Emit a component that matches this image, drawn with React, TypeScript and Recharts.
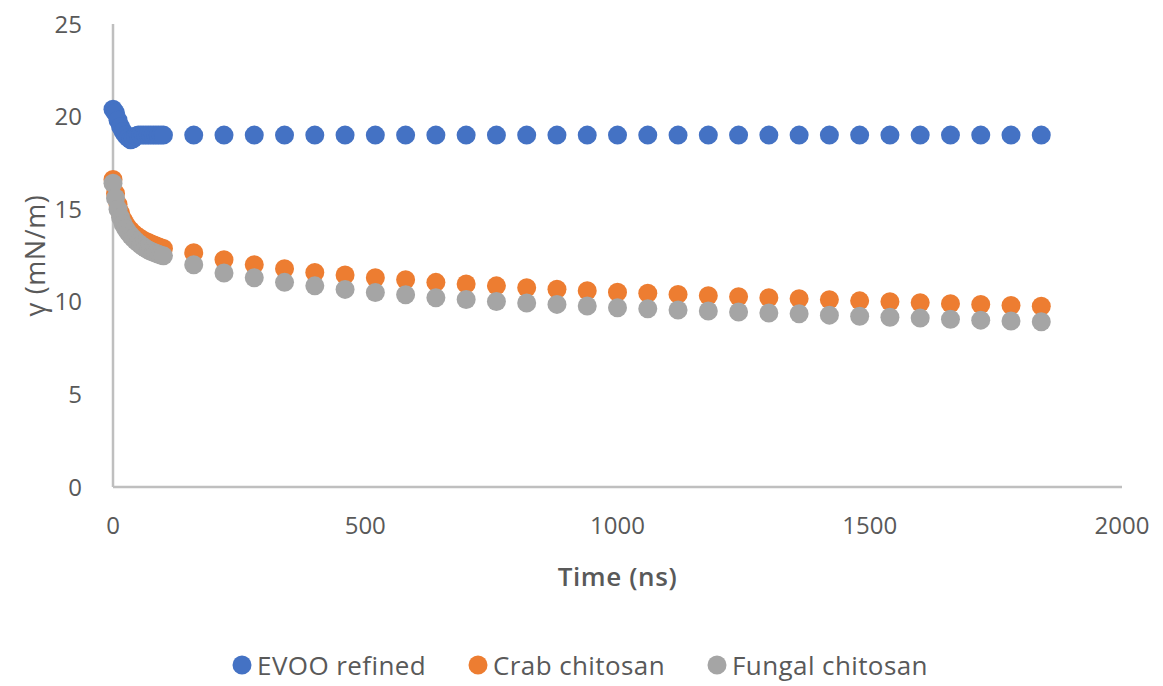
import React from 'react';
import { Legend, Scatter, ScatterChart, XAxis, YAxis } from 'recharts';

// time points (ns): dense early sampling, then every 60 ns
const timeDense = [0, 5, 10, 15, 20, 25, 30, 35, 40, 45, 50, 55, 60, 65, 70, 75, 80, 85, 90, 95, 100];
const timeSparse = [
  160, 220, 280, 340, 400, 460, 520, 580, 640, 700, 760, 820, 880, 940, 1000,
  1060, 1120, 1180, 1240, 1300, 1360, 1420, 1480, 1540, 1600, 1660, 1720, 1780, 1840,
];

const evooDense = [20.4, 20.2, 19.8, 19.45, 19.2, 19.0, 18.85, 18.75, 18.8, 18.95, 19.0, 19.0, 19.0, 19.0, 19.0, 19.0, 19.0, 19.0, 19.0, 19.0, 19.0];
const evooSparse = [
  19.0, 19.0, 19.0, 19.0, 19.0, 19.0, 19.0, 19.0, 19.0, 19.0, 19.0, 19.0, 19.0, 19.0, 19.0,
  19.0, 19.0, 19.0, 19.0, 19.0, 19.0, 19.0, 19.0, 19.0, 19.0, 19.0, 19.0, 19.0, 19.0,
];

const crabDense = [16.6, 15.85, 15.25, 14.8, 14.45, 14.2, 14.0, 13.85, 13.7, 13.6, 13.5, 13.4, 13.33, 13.26, 13.2, 13.14, 13.08, 13.02, 12.97, 12.92, 12.88];
const crabSparse = [
  12.65, 12.27, 12.0, 11.78, 11.58, 11.45, 11.3, 11.19, 11.05, 10.96, 10.86, 10.76, 10.68, 10.6, 10.52,
  10.46, 10.4, 10.33, 10.27, 10.22, 10.17, 10.11, 10.05, 10.0, 9.95, 9.9, 9.85, 9.8, 9.76,
];

const fungalDense = [16.4, 15.6, 15.0, 14.55, 14.2, 13.95, 13.75, 13.58, 13.43, 13.3, 13.18, 13.07, 12.97, 12.88, 12.8, 12.73, 12.67, 12.62, 12.57, 12.52, 12.48];
const fungalSparse = [
  12.0, 11.56, 11.3, 11.05, 10.86, 10.67, 10.5, 10.38, 10.22, 10.12, 10.02, 9.94, 9.86, 9.77, 9.68,
  9.62, 9.56, 9.5, 9.45, 9.4, 9.35, 9.28, 9.22, 9.17, 9.12, 9.06, 9.01, 8.96, 8.92,
];

const xTicks = [0, 500, 1000, 1500, 2000];
const yTicks = [0, 5, 10, 15, 20, 25];

const FONT = '"Open Sans", sans-serif';
const TEXT = '#595959';
const AXIS = '#BFBFBF';

const series = [
  { name: 'EVOO refined', color: '#4472C4', dense: evooDense, sparse: evooSparse },
  { name: 'Crab chitosan', color: '#ED7D31', dense: crabDense, sparse: crabSparse },
  { name: 'Fungal chitosan', color: '#A5A5A5', dense: fungalDense, sparse: fungalSparse },
];

const times = [...timeDense, ...timeSparse];

function toPoints(dense: number[], sparse: number[]) {
  const vals = [...dense, ...sparse];
  return times.map((t, i) => ({ t, v: vals[i] }));
}

const Dot = (color: string) => (props: any) => (
  <circle cx={props.cx} cy={props.cy} r={9.5} fill={color} />
);

function LegendContent() {
  return (
    <div
      style={{
        display: 'flex',
        justifyContent: 'center',
        alignItems: 'center',
        height: 40,
        paddingLeft: 30,
        fontFamily: FONT,
        fontSize: 26,
        color: TEXT,
      }}
    >
      {series.map((s) => (
        <div key={s.name} style={{ display: 'flex', alignItems: 'center', margin: '0 21px' }}>
          <svg width={20} height={20} style={{ marginRight: 5 }}>
            <circle cx={10} cy={10} r={9.5} fill={s.color} />
          </svg>
          <span style={{ letterSpacing: 0.4 }}>{s.name}</span>
        </div>
      ))}
    </div>
  );
}

export default function App() {
  return (
    <ScatterChart
      width={1150}
      height={678}
      margin={{ top: 16, right: 36, left: 0, bottom: 1 }}
    >
      <XAxis
        type="number"
        dataKey="t"
        domain={[0, 2000]}
        ticks={xTicks}
        interval={0}
        height={158}
        axisLine={{ stroke: AXIS, strokeWidth: 2.5 }}
        tickLine={false}
        tickSize={0}
        tickMargin={30}
        tick={{ fontSize: 24, fill: TEXT, fontFamily: FONT }}
        label={{
          value: 'Time (ns)',
          position: 'insideTop',
          offset: 81,
          style: { fontSize: 26, fontWeight: 600, fill: TEXT, fontFamily: FONT, letterSpacing: 0.6 },
        }}
      />
      <YAxis
        type="number"
        dataKey="v"
        domain={[0, 25]}
        ticks={yTicks}
        interval={0}
        width={105}
        axisLine={{ stroke: AXIS, strokeWidth: 2.5 }}
        tickLine={false}
        tickSize={0}
        tickMargin={31}
        tick={{ fontSize: 24, fill: TEXT, fontFamily: FONT }}
        label={{
          value: 'γ (mN/m)',
          angle: -90,
          position: 'insideLeft',
          offset: 27,
          style: { textAnchor: 'middle', fontSize: 27, fontWeight: 400, fill: TEXT, fontFamily: FONT, letterSpacing: 0.6 },
        }}
      />
      <Legend verticalAlign="bottom" content={<LegendContent />} />
      {series.map((s) => (
        <Scatter
          key={s.name}
          name={s.name}
          data={toPoints(s.dense, s.sparse)}
          fill={s.color}
          shape={Dot(s.color)}
          isAnimationActive={false}
        />
      ))}
    </ScatterChart>
  );
}
